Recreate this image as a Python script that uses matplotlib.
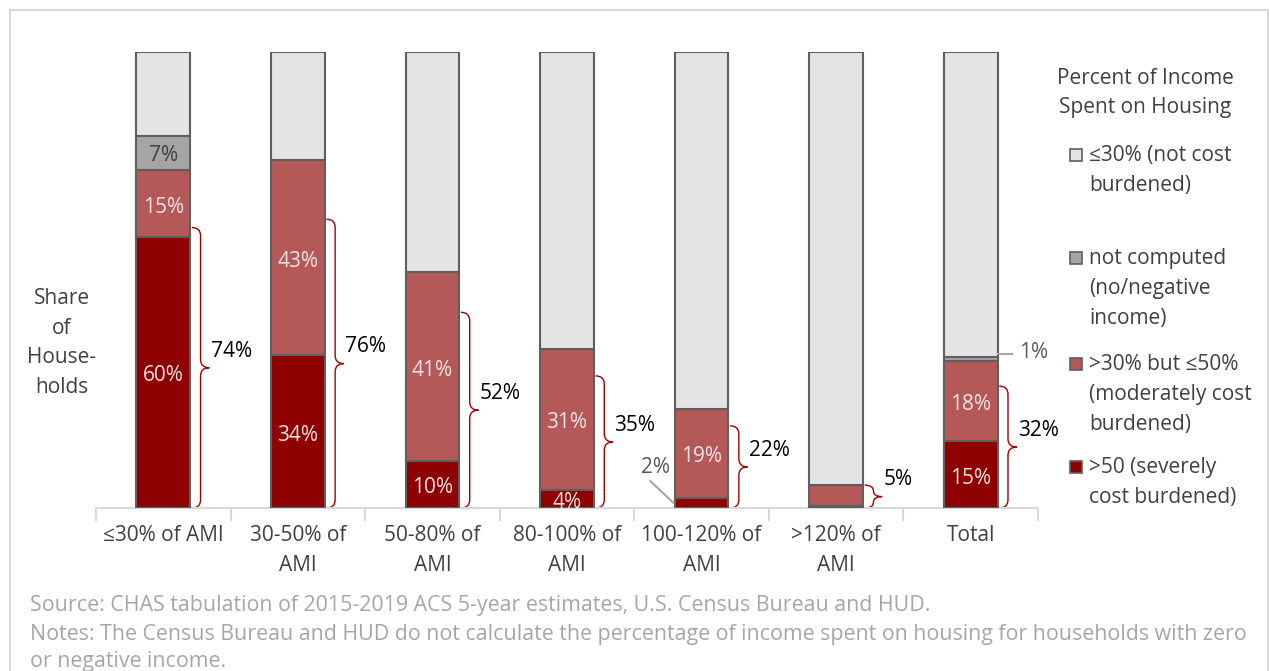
import matplotlib
matplotlib.use("Agg")
import matplotlib.pyplot as plt
import numpy as np
from matplotlib.path import Path
from matplotlib.patches import PathPatch, Rectangle

plt.rcParams['font.family'] = ['Open Sans', 'DejaVu Sans']

# data (share of households, %)
categories = ['≤30% of AMI', '30-50% of\nAMI', '50-80% of\nAMI', '80-100% of\nAMI',
              '100-120% of\nAMI', '>120% of\nAMI', 'Total']
severe = [59.5, 33.6, 10.4, 4.0, 2.3, 0.4, 14.6]
moderate = [14.6, 42.7, 41.3, 30.9, 19.4, 4.6, 17.6]
not_computed = [7.4, 0.0, 0.0, 0.0, 0.0, 0.0, 1.0]
not_burdened = [18.5, 23.7, 48.3, 65.1, 78.3, 95.0, 66.8]

legend_labels = ['≤30% (not cost\nburdened)', 'not computed\n(no/negative\nincome)',
                 '>30% but ≤50%\n(moderately cost\nburdened)', '>50 (severely\ncost burdened)']

c_sev, c_mod, c_nc, c_nb = '#8f0000', '#b55858', '#a5a5a5', '#e4e4e4'
edge = '#5f5f5f'
txt = '#404040'
LS = 1.555
FS = 15

fig = plt.figure(figsize=(12.7, 6.71), dpi=100)
fig.patches.append(Rectangle((10 / 1270, -0.05), 1258 / 1270, 1.05 - 10 / 671,
                             transform=fig.transFigure, fill=False,
                             edgecolor='#d9d9d9', lw=1.5))

ax = fig.add_axes([96 / 1270, 163 / 671, 942 / 1270, 456 / 671])
x = np.arange(len(categories))
w = 0.40
sev = np.array(severe)
mod = np.array(moderate)
nc = np.array(not_computed)
nb = np.array(not_burdened)

kw = dict(width=w, edgecolor=edge, linewidth=1.5, zorder=3)
ax.bar(x, sev, color=c_sev, **kw)
ax.bar(x, mod, bottom=sev, color=c_mod, **kw)
ax.bar(x, nc, bottom=sev + mod, color=c_nc, **kw)
ax.bar(x, nb, bottom=sev + mod + nc, color=c_nb, **kw)

light = '#ece4e4'
for i in x:
    if sev[i] >= 3:
        ax.text(i, sev[i] / 2 - 0.8, f'{sev[i]:.0f}%', ha='center', va='center',
                color=light, fontsize=FS, zorder=4, clip_on=True)
    elif sev[i] >= 1:
        ax.text(i - 0.34, sev[i] + 6.5, f'{sev[i]:.0f}%', ha='center', va='center',
                color='#595959', fontsize=FS)
        ax.plot([i - 0.38, i - 0.21], [sev[i] + 3.6, sev[i] / 2],
                color='#a5a5a5', lw=1.5, zorder=4)
    if mod[i] >= 10:
        ax.text(i, sev[i] + mod[i] / 2 - 0.8, f'{mod[i]:.0f}%', ha='center', va='center',
                color=light, fontsize=FS, zorder=4)
    if nc[i] >= 3:
        ax.text(i, sev[i] + mod[i] + nc[i] / 2 - 0.5, f'{nc[i]:.0f}%', ha='center',
                va='center', color=txt, fontsize=FS, zorder=4)
    elif nc[i] > 0:
        yy = sev[i] + mod[i] + nc[i] / 2 + 1.0
        ax.plot([i + 0.2, i + 0.31], [yy, yy], color='#a5a5a5', lw=1.5, zorder=4)
        ax.text(i + 0.36, yy + 0.3, f'{nc[i]:.0f}%', ha='left', va='center',
                color='#595959', fontsize=FS)


def brace(ax, x0, y0, y1, bw=0.13, color='#a00000'):
    ym = (y0 + y1) / 2
    r = min(1.8, (y1 - y0) / 4)
    xm = x0 + bw / 2
    xt = x0 + bw
    verts = [(x0, y0), (xm, y0), (xm, y0 + r), (xm, ym - r), (xm, ym), (xt, ym),
             (xm, ym), (xm, ym + r), (xm, y1 - r), (xm, y1), (x0, y1)]
    codes = [Path.MOVETO, Path.CURVE3, Path.CURVE3, Path.LINETO, Path.CURVE3, Path.CURVE3,
             Path.CURVE3, Path.CURVE3, Path.LINETO, Path.CURVE3, Path.CURVE3]
    ax.add_patch(PathPatch(Path(verts, codes), fill=False, edgecolor=color, lw=1.0,
                           clip_on=False, zorder=2))
    return xt, ym


for i in x:
    tot = sev[i] + mod[i]
    # the braces in the original stop somewhat short of the segment top
    top = tot * 0.83 if tot > 10 else tot
    xt, ym = brace(ax, i + w / 2 + 0.012, 0, top)
    ax.annotate(f'{tot:.0f}%', (xt, ym), xytext=(1, 12), textcoords='offset points',
                ha='left', va='center', fontsize=FS, color='black')

ax.set_xlim(-0.5, 6.5)
ax.set_ylim(0, 100)
for s in ['top', 'right', 'left']:
    ax.spines[s].set_visible(False)
ax.spines['bottom'].set_color('#d9d9d9')
ax.spines['bottom'].set_linewidth(1.5)
ax.set_yticks([])
ax.set_xticks(x)
ax.set_xticklabels(categories, fontsize=FS, color=txt, linespacing=LS)
ax.tick_params(axis='x', which='major', length=0, pad=12)
ax.set_xticks(np.arange(-0.5, 7, 1), minor=True)
ax.tick_params(axis='x', which='minor', length=9, color='#d9d9d9', width=1.5)

fig.text(62 / 1270, 1 - 343 / 671, 'Share\nof\nHouse-\nholds', ha='center', va='center',
         fontsize=FS, color=txt, linespacing=LS)

# legend
fig.text(1145 / 1270, 1 - 93 / 671, 'Percent of Income\nSpent on Housing', ha='center',
         va='center', fontsize=FS, color=txt, linespacing=LS)
leg_colors = [c_nb, c_nc, c_mod, c_sev]
first_line = [155, 258, 364, 467]
for lab, col, yl in zip(legend_labels, leg_colors, first_line):
    fig.patches.append(Rectangle((1070 / 1270, 1 - (yl + 6) / 671), 12 / 1270, 12 / 671,
                                 transform=fig.transFigure, facecolor=col,
                                 edgecolor=edge, lw=1.2))
    fig.text(1089 / 1270, 1 - (yl - 10) / 671, lab, ha='left', va='top', fontsize=FS,
             color=txt, linespacing=LS, transform=fig.transFigure)

foot = '#a6a6a6'
fig.text(30 / 1270, 1 - 606 / 671, 'Source: CHAS tabulation of 2015-2019 ACS 5-year estimates, '
         'U.S. Census Bureau and HUD.', ha='left', va='center', fontsize=15.4, color=foot)
fig.text(30 / 1270, 1 - 648 / 671, 'Notes: The Census Bureau and HUD do not calculate the percentage '
         'of income spent on housing for households with zero\nor negative income.',
         ha='left', va='center', fontsize=15.4, color=foot, linespacing=1.36)

fig.savefig('out.png', dpi=100)
